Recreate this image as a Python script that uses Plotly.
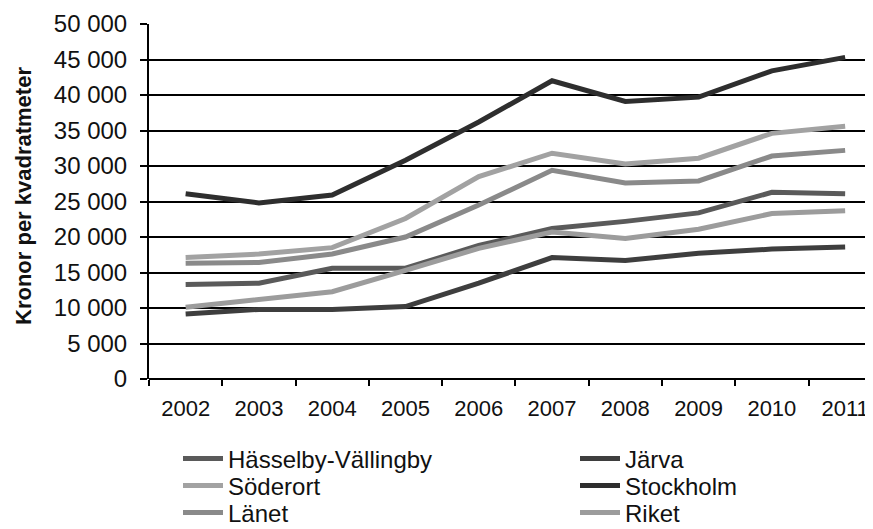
import plotly.graph_objects as go

years = ['2002', '2003', '2004', '2005', '2006', '2007', '2008', '2009', '2010', '2011']

hasselby = [13300, 13500, 15600, 15600, 18800, 21200, 22200, 23400, 26300, 26100]
jarva = [9150, 9800, 9800, 10200, 13500, 17100, 16700, 17700, 18300, 18600]
soderort = [17100, 17600, 18500, 22600, 28500, 31800, 30300, 31100, 34600, 35600]
stockholm = [26100, 24800, 25900, 30800, 36200, 42000, 39100, 39700, 43400, 45300]
lanet = [16300, 16400, 17600, 20000, 24500, 29400, 27600, 27900, 31400, 32200]
riket = [10100, 11200, 12300, 15300, 18400, 20700, 19800, 21100, 23300, 23700]

# page has an 8px body margin, so the figure is drawn 8px in from the corner
OFF = 8
W, H = 873 - OFF, 529 - OFF

# name, values, colour, legend slot (figure x, figure y of row centre)
series = [
    ('Hässelby-Vällingby', hasselby, '#5a5a5a', 170, 451),
    ('Järva', jarva, '#3e3e3e', 567, 451),
    ('Söderort', soderort, '#a2a2a2', 170, 478),
    ('Stockholm', stockholm, '#2e2e2e', 567, 478),
    ('Länet', lanet, '#8a8a8a', 170, 505),
    ('Riket', riket, '#9c9c9c', 567, 505),
]

yticks = list(range(0, 50001, 5000))
yticktext = ['{:,}'.format(v).replace(',', ' ') for v in yticks]

fig = go.Figure()
legends = {}
for i, (name, vals, col, lx, ly) in enumerate(series):
    key = 'legend' if i == 0 else 'legend%d' % (i + 1)
    fig.add_trace(go.Scatter(x=years, y=vals, name=name, mode='lines',
                             line=dict(color=col, width=5), legend=key))
    legends[key] = dict(xref='container', yref='container',
                        x=lx / W, y=1 - ly / H,
                        xanchor='left', yanchor='middle',
                        font=dict(size=24, color='#111'), itemwidth=40,
                        bgcolor='rgba(0,0,0,0)')

left, top, bottom = 149 - OFF, 24 - OFF, 379 - OFF
fig.update_layout(
    width=W, height=H,
    margin=dict(l=left, r=0, t=top, b=H - bottom, autoexpand=False),
    paper_bgcolor='white', plot_bgcolor='white',
    font=dict(family='Liberation Sans, Arial, sans-serif', color='#111'),
    showlegend=True,
    **legends,
)
fig.add_annotation(text='<b>Kronor per kvadratmeter</b>', textangle=-90,
                   xref='paper', yref='paper',
                   x=(23 - 149) / (W - left), y=(379 - 196) / (379 - 24),
                   xanchor='center', yanchor='middle', showarrow=False,
                   font=dict(size=22, color='#111'))
fig.update_xaxes(type='category', range=[-0.5, 9.38], showgrid=False, automargin=False,
                 ticks='outside', tickson='boundaries', ticklen=6, tickwidth=1.5,
                 tickcolor='black', showline=False, zeroline=False, tickangle=0,
                 ticklabelstandoff=14, tickfont=dict(size=22))
fig.update_yaxes(range=[0, 50000], tickvals=yticks, ticktext=yticktext, automargin=False,
                 showgrid=True, gridcolor='black', gridwidth=2,
                 showline=True, linecolor='black', linewidth=2,
                 ticks='outside', ticklen=7, tickcolor='black', tickwidth=1.5,
                 zeroline=True, zerolinecolor='black', zerolinewidth=2,
                 ticklabelstandoff=8, tickfont=dict(size=24))

fig.write_html('out.html')
